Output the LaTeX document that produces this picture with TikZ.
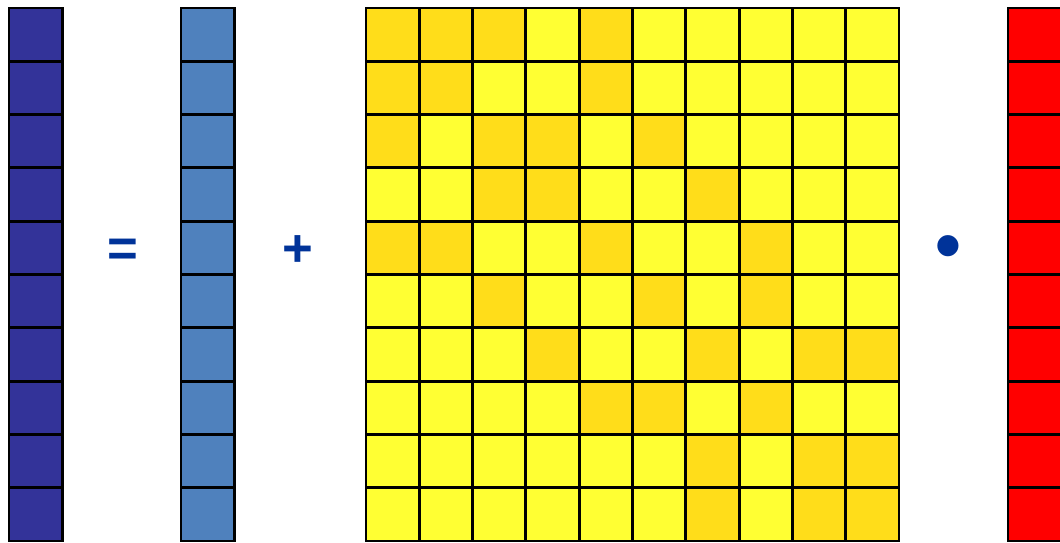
\documentclass[tikz,border=0pt]{standalone}
\usepackage{fontspec}
\setmainfont{Liberation Sans}
\usepackage{tikz}

\definecolor{outblue}{HTML}{333399}
\definecolor{biasblue}{HTML}{4F81BD}
\definecolor{wlight}{HTML}{FFFF33}
\definecolor{wdark}{HTML}{FFDD1A}
\definecolor{inred}{HTML}{FF0000}
\definecolor{signblue}{HTML}{003399}

\begin{document}
\begin{tikzpicture}[x=0.02cm, y=-0.02cm,
      cell/.style={rectangle, draw=black, line width=1.6pt, inner sep=0pt,
                   minimum width=1.066cm, minimum height=1.066cm},
      sign/.style={text=signblue, font=\bfseries\fontsize{30}{30}\selectfont, inner sep=0pt}]
    \useasboundingbox (0,0) rectangle (1060,543);
    % vectors: output, bias, input
    \foreach \r in {0,...,9} {
      \node[cell, fill=outblue]  (y-\r) at (35.65, 34.65+53.3*\r) {};
      \node[cell, fill=biasblue] (b-\r) at (207.65, 34.65+53.3*\r) {};
      \node[cell, fill=inred]    (x-\r) at (1034.65, 34.65+53.3*\r) {};
    }
    % weight matrix
    \foreach \r in {0,...,9}
      \foreach \c in {0,...,9}
        \node[cell, fill=wlight] (w-\r-\c) at (392.65+53.3*\c, 34.65+53.3*\r) {};
    \foreach \r/\c in {0/0,0/1,0/2,0/4, 1/0,1/1,1/4, 2/0,2/2,2/3,2/5,
                       3/2,3/3,3/6, 4/0,4/1,4/4,4/7, 5/2,5/5,5/7,
                       6/3,6/6,6/8,6/9, 7/4,7/5,7/7, 8/6,8/8,8/9, 9/6,9/8,9/9}
      \node[cell, fill=wdark] at (392.65+53.3*\c, 34.65+53.3*\r) {};
    % operators
    \node[sign] (eq) at (123, 253) {=};
    \node[sign] (plus) at (298, 251) {+};
    \node[sign, font=\bfseries\fontsize{42}{42}\selectfont] (dot) at (948, 253) {•};
  \end{tikzpicture}
\end{document}
